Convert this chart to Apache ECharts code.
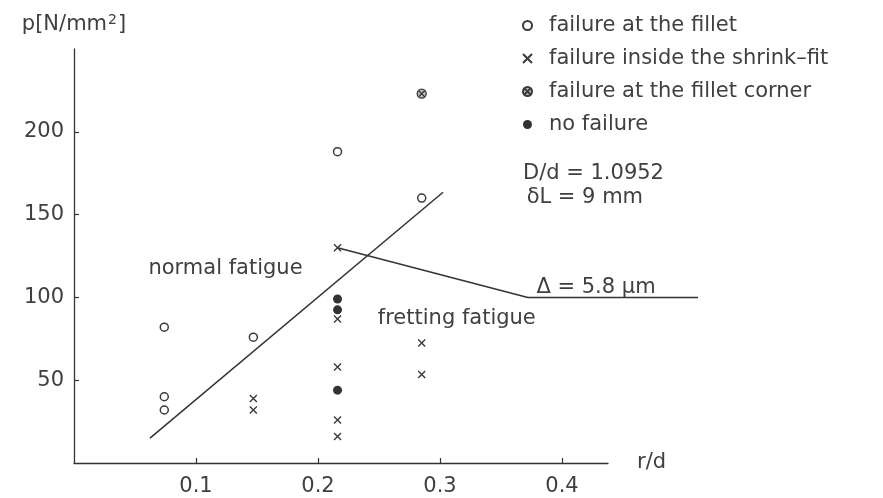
<!DOCTYPE html>
<html><head><meta charset="utf-8">
<script src="https://cdn.jsdelivr.net/npm/echarts@6/dist/echarts.min.js"></script>
<style>html,body{margin:0;padding:0;background:#fff}#c{width:883px;height:498px}</style>
</head><body><div id="c"></div>
<script>
// ---- data ----
const xTicks = [0.1, 0.2, 0.3, 0.4];
const yTicks = [50, 100, 150, 200];
const seriesNames = ['failure at the fillet', 'failure inside the shrink\u2013fit', 'failure at the fillet corner', 'no failure'];
const filletX = [0.074, 0.074, 0.074, 0.147, 0.216, 0.285];
const filletY = [82, 40, 32, 76, 188, 160];
const shrinkX = [0.147, 0.147, 0.216, 0.216, 0.216, 0.216, 0.216, 0.285, 0.285];
const shrinkY = [39, 32, 130, 87, 58, 26, 16, 72.5, 53.5];
const cornerX = [0.285];
const cornerY = [223];
const noFailX = [0.216, 0.216, 0.216];
const noFailY = [99, 92.5, 44];
const normalLineX = [0.0623, 0.3025];
const normalLineY = [15, 163.5];
const deltaLineX = [0.216, 0.372, 0.5115];
const deltaLineY = [130, 100, 100];
const noteText = ['normal fatigue', 'fretting fatigue', '\u0394 = 5.8 \u03bcm', 'D/d = 1.0952', '\u03b4L = 9 mm'];
const noteX = [0.061, 0.249, 0.379, 0.368, 0.371];
const noteY = [117.5, 87, 106, 175, 160];

const X_MAX = 0.4377;      // end of the drawn r/d axis
const X_EXT = 0.5115;      // extended range used for the Δ line
const zip = (xs, ys) => xs.map((x, i) => [x, ys[i]]);
const FONT = 'DejaVu Sans';
const INK = '#404040';
const FS = 21;
const CROSS = 'path://M0,0L10,10M10,0L0,10';
const CORNER = 'path://M10,5A5,5,0,1,1,0,5A5,5,0,1,1,10,5ZM1.8,1.8L8.2,8.2M8.2,1.8L1.8,8.2';

const L = 74, T = 49, B = 35, R = 275;
const W = 883 - L - R;
const R2 = 883 - L - W * X_EXT / X_MAX;

const chart = echarts.init(document.getElementById('c'), null, {renderer: 'canvas'});
chart.setOption({
  animation: false,
  backgroundColor: '#fff',
  textStyle: {fontFamily: FONT, color: INK},
  grid: [
    {left: L, top: T, right: R, bottom: B, containLabel: false},
    {left: L, top: T, right: R2, bottom: B, containLabel: false}
  ],
  legend: {
    data: seriesNames,
    orient: 'vertical',
    left: 517, top: 10,
    itemWidth: 9, itemHeight: 9,
    itemGap: 12,
    textStyle: {fontFamily: FONT, fontSize: FS, color: INK, lineHeight: 20, padding: [0, 0, 0, 12]},
    selectedMode: false
  },
  xAxis: [{
    type: 'value', min: 0, max: X_MAX, gridIndex: 0,
    name: 'r/d', nameLocation: 'end', nameGap: 29,
    nameTextStyle: {fontFamily: FONT, fontSize: FS, color: INK, padding: [0, 0, 10, 0]},
    splitLine: {show: false},
    axisLine: {lineStyle: {color: '#333', width: 1.3}},
    axisTick: {inside: true, length: 5, customValues: xTicks, lineStyle: {color: '#333', width: 1.2}},
    axisLabel: {customValues: xTicks, margin: 13, fontFamily: FONT, fontSize: FS, color: INK, formatter: v => String(v)}
  }, {
    type: 'value', min: 0, max: X_EXT, gridIndex: 1, show: false
  }],
  yAxis: [{
    type: 'value', min: 0, max: 250, gridIndex: 0,
    name: 'p[N/mm{sup|2}]', nameLocation: 'end', nameGap: 13,
    nameTextStyle: {fontFamily: FONT, fontSize: FS, color: INK,
      rich: {sup: {fontFamily: FONT, fontSize: 14, color: INK, padding: [0, 1, 9, 1]}}},
    splitLine: {show: false},
    axisLine: {lineStyle: {color: '#333', width: 1.3}},
    axisTick: {inside: true, length: 5, customValues: yTicks, lineStyle: {color: '#333', width: 1.2}},
    axisLabel: {customValues: yTicks, margin: 10, fontFamily: FONT, fontSize: FS, color: INK}
  }, {
    type: 'value', min: 0, max: 250, gridIndex: 1, show: false
  }],
  series: [
    {type: 'line', data: zip(normalLineX, normalLineY), showSymbol: false, symbol: 'none', silent: true,
     lineStyle: {color: '#333', width: 1.5}, z: 1},
    {type: 'line', xAxisIndex: 1, yAxisIndex: 1, data: zip(deltaLineX, deltaLineY), showSymbol: false, symbol: 'none', silent: true,
     lineStyle: {color: '#333', width: 1.5}, z: 1},
    {name: seriesNames[0], type: 'scatter', data: zip(filletX, filletY), symbol: 'circle', symbolSize: 8,
     itemStyle: {color: 'rgba(255,255,255,0)', borderColor: '#3a3a3a', borderWidth: 1.5, opacity: 1}, z: 3},
    {name: seriesNames[1], type: 'scatter', data: zip(shrinkX, shrinkY), symbol: CROSS, symbolSize: 7,
     itemStyle: {color: 'rgba(255,255,255,0)', borderColor: '#3a3a3a', borderWidth: 1.4, opacity: 1}, z: 3},
    {name: seriesNames[2], type: 'scatter', data: zip(cornerX, cornerY), symbol: CORNER, symbolSize: 9,
     itemStyle: {color: 'rgba(140,140,140,0.6)', borderColor: '#3a3a3a', borderWidth: 1.3, opacity: 1}, z: 3},
    {name: seriesNames[3], type: 'scatter', data: zip(noFailX, noFailY), symbol: 'circle', symbolSize: 9,
     itemStyle: {color: '#333', borderWidth: 0, opacity: 1}, z: 3},
    {type: 'scatter', silent: true, symbolSize: 0, z: 4, itemStyle: {opacity: 1},
     data: noteText.map((t, i) => ({name: t, value: [noteX[i], noteY[i]]})),
     label: {show: true, position: 'right', distance: 0, formatter: p => p.name,
             fontFamily: FONT, fontSize: FS, color: INK}}
  ]
});
</script>
</body></html>
